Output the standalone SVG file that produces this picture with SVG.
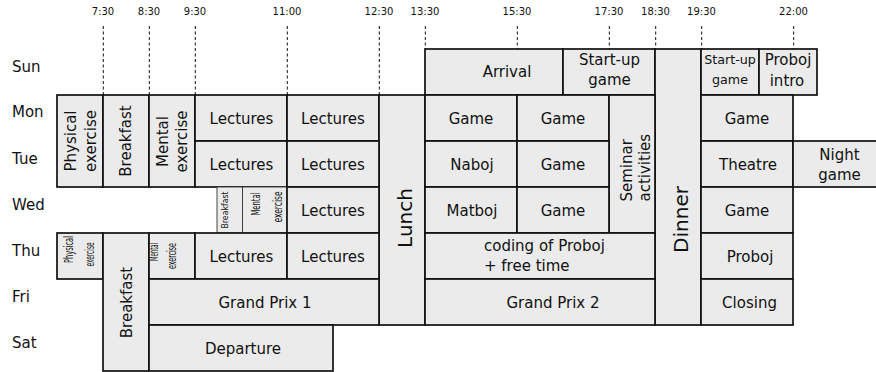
<svg xmlns="http://www.w3.org/2000/svg" width="876" height="372" viewBox="0 0 876 372">
  <style>
    .box { fill: #ebebeb; stroke: #111; stroke-width: 1.7; }
    .thin { stroke-width: 0.9; stroke: #333; }
    .grid { stroke: #111; stroke-width: 1; stroke-dasharray: 3 2.5; fill: none; }
    text { font-family: "DejaVu Sans", "Liberation Sans", sans-serif; font-size: 15px; fill: #111; text-anchor: middle; }
    .day { text-anchor: start; }
    .time { font-size: 10px; }
    .big { font-size: 20px; }
    .left { text-anchor: start; }
  </style>

  <!-- time axis -->
  <g id="time-axis">
    <text class="time" x="103" y="15">7:30</text>
    <text class="time" x="149" y="15">8:30</text>
    <text class="time" x="195" y="15">9:30</text>
    <text class="time" x="287" y="15">11:00</text>
    <text class="time" x="379" y="15">12:30</text>
    <text class="time" x="425" y="15">13:30</text>
    <text class="time" x="517" y="15">15:30</text>
    <text class="time" x="609" y="15">17:30</text>
    <text class="time" x="655.5" y="15">18:30</text>
    <text class="time" x="701.5" y="15">19:30</text>
    <text class="time" x="793.5" y="15">22:00</text>
  </g>

  <g id="connectors">
    <line class="grid" x1="103.3" y1="26" x2="103.3" y2="95"/>
    <line class="grid" x1="149.3" y1="26" x2="149.3" y2="95"/>
    <line class="grid" x1="195.3" y1="26" x2="195.3" y2="95"/>
    <line class="grid" x1="287.3" y1="26" x2="287.3" y2="95"/>
    <line class="grid" x1="379.3" y1="26" x2="379.3" y2="95"/>
    <line class="grid" x1="425.3" y1="26" x2="425.3" y2="49"/>
    <line class="grid" x1="517.3" y1="26" x2="517.3" y2="49"/>
    <line class="grid" x1="609.3" y1="26" x2="609.3" y2="49"/>
    <line class="grid" x1="655.7" y1="26" x2="655.7" y2="49"/>
    <line class="grid" x1="701.7" y1="26" x2="701.7" y2="49"/>
    <line class="grid" x1="793.7" y1="26" x2="793.7" y2="49"/>
  </g>

  <!-- day labels -->
  <g id="days">
    <text class="day" x="12" y="72">Sun</text>
    <text class="day" x="12" y="117">Mon</text>
    <text class="day" x="12" y="164">Tue</text>
    <text class="day" x="12" y="210">Wed</text>
    <text class="day" x="12" y="256">Thu</text>
    <text class="day" x="12" y="302">Fri</text>
    <text class="day" x="12" y="348">Sat</text>
  </g>

  <!-- Sunday -->
  <g id="sun-arrival"><rect class="box" x="425" y="49" width="138" height="46"/><text x="507" y="77">Arrival</text></g>
  <g id="sun-startup"><rect class="box" x="563" y="49" width="92" height="46"/><text x="609.5" y="65">Start-up</text><text x="609.5" y="85">game</text></g>
  <g id="dinner"><rect class="box" x="655" y="49" width="46" height="276"/><text class="big" transform="translate(687.5 219.5) rotate(-90)">Dinner</text></g>
  <g id="sun-startup-evening"><rect class="box" x="701" y="49" width="58" height="46"/><text x="730" y="64" style="font-size:12.7px">Start-up</text><text x="730" y="83.5" style="font-size:12.7px">game</text></g>
  <g id="sun-proboj-intro"><rect class="box" x="759" y="49" width="58" height="46"/><text x="788" y="65">Proboj</text><text x="787" y="86">intro</text></g>

  <!-- Monday / Tuesday morning -->
  <g id="physical-exercise"><rect class="box" x="57" y="95" width="46" height="92"/><text transform="translate(75.5 141) rotate(-90)">Physical</text><text transform="translate(96 141) rotate(-90)">exercise</text></g>
  <g id="breakfast"><rect class="box" x="103" y="95" width="46" height="92"/><text transform="translate(131 141) rotate(-90)">Breakfast</text></g>
  <g id="mental-exercise"><rect class="box" x="149" y="95" width="46" height="92"/><text transform="translate(167.5 141.5) rotate(-90)">Mental</text><text transform="translate(187 141.5) rotate(-90)">exercise</text></g>
  <g id="mon-lectures-1"><rect class="box" x="195" y="95" width="92" height="46"/><text x="241.5" y="123.5">Lectures</text></g>
  <g id="mon-lectures-2"><rect class="box" x="287" y="95" width="92" height="46"/><text x="333" y="123.5">Lectures</text></g>
  <g id="lunch"><rect class="box" x="379" y="95" width="46" height="230"/><text class="big" transform="translate(411.5 218) rotate(-90)">Lunch</text></g>
  <g id="mon-game-1"><rect class="box" x="425" y="95" width="92" height="46"/><text x="471" y="123.5">Game</text></g>
  <g id="mon-game-2"><rect class="box" x="517" y="95" width="92" height="46"/><text x="563" y="123.5">Game</text></g>
  <g id="seminar"><rect class="box" x="609" y="95" width="46" height="138"/><text class="left" transform="translate(631.5 201.5) rotate(-90)">Seminar</text><text class="left" transform="translate(650 201.5) rotate(-90)">activities</text></g>
  <g id="mon-game-3"><rect class="box" x="701" y="95" width="92" height="46"/><text x="747" y="123.5">Game</text></g>

  <!-- Tuesday -->
  <g id="tue-lectures-1"><rect class="box" x="195" y="141" width="92" height="46"/><text x="241.5" y="169.5">Lectures</text></g>
  <g id="tue-lectures-2"><rect class="box" x="287" y="141" width="92" height="46"/><text x="333" y="169.5">Lectures</text></g>
  <g id="tue-naboj"><rect class="box" x="425" y="141" width="92" height="46"/><text x="472" y="169.5">Naboj</text></g>
  <g id="tue-game"><rect class="box" x="517" y="141" width="92" height="46"/><text x="563" y="169.5">Game</text></g>
  <g id="tue-theatre"><rect class="box" x="701" y="141" width="92" height="46"/><text x="748" y="169.5">Theatre</text></g>
  <g id="tue-night-game"><rect class="box" x="793" y="141" width="94" height="46"/><text x="839.5" y="160">Night</text><text x="839.5" y="179.5">game</text></g>

  <!-- Wednesday (compressed morning) -->
  <g id="wed-breakfast"><rect class="box thin" x="217" y="187" width="25.5" height="46"/><text transform="translate(228 210) rotate(-90)" style="font-size:9.5px" textLength="37" lengthAdjust="spacingAndGlyphs">Breakfast</text></g>
  <g id="wed-mental-exercise"><rect class="box thin" x="242.5" y="187" width="44.5" height="46"/><text transform="translate(260 204) rotate(-90)" style="font-size:12px" textLength="23" lengthAdjust="spacingAndGlyphs">Mental</text><text transform="translate(281.5 207) rotate(-90)" style="font-size:12px" textLength="31" lengthAdjust="spacingAndGlyphs">exercise</text></g>
  <g id="wed-lectures"><rect class="box" x="287" y="187" width="92" height="46"/><text x="333" y="215.5">Lectures</text></g>
  <g id="wed-matboj"><rect class="box" x="425" y="187" width="92" height="46"/><text x="472" y="215.5">Matboj</text></g>
  <g id="wed-game"><rect class="box" x="517" y="187" width="92" height="46"/><text x="563" y="215.5">Game</text></g>
  <g id="wed-game-evening"><rect class="box" x="701" y="187" width="92" height="46"/><text x="747" y="215.5">Game</text></g>

  <!-- Thursday (compressed morning) -->
  <g id="thu-physical-exercise"><rect class="box" x="57" y="233" width="46" height="46"/><text transform="translate(73 249.5) rotate(-90)" style="font-size:12.5px" textLength="27" lengthAdjust="spacingAndGlyphs">Physical</text><text transform="translate(93.5 254.5) rotate(-90)" style="font-size:12.5px" textLength="24" lengthAdjust="spacingAndGlyphs">exercise</text></g>
  <g id="thu-breakfast"><rect class="box" x="103" y="233" width="46" height="138"/><text transform="translate(131.5 302.5) rotate(-90)">Breakfast</text></g>
  <g id="thu-mental-exercise"><rect class="box" x="149" y="233" width="46" height="46"/><text transform="translate(157.5 252) rotate(-90)" style="font-size:12px" textLength="18" lengthAdjust="spacingAndGlyphs">Mental</text><text transform="translate(175.5 256) rotate(-90)" style="font-size:12px" textLength="26" lengthAdjust="spacingAndGlyphs">exercise</text></g>
  <g id="thu-lectures-1"><rect class="box" x="195" y="233" width="92" height="46"/><text x="241.5" y="261.5">Lectures</text></g>
  <g id="thu-lectures-2"><rect class="box" x="287" y="233" width="92" height="46"/><text x="333" y="261.5">Lectures</text></g>
  <g id="thu-coding"><rect class="box" x="425" y="233" width="230" height="46"/><text class="left" x="484" y="251">coding of Proboj</text><text class="left" x="484" y="271">+ free time</text></g>
  <g id="thu-proboj"><rect class="box" x="701" y="233" width="92" height="46"/><text x="750" y="261.5">Proboj</text></g>

  <!-- Friday -->
  <g id="fri-grand-prix-1"><rect class="box" x="149" y="279" width="230" height="46"/><text x="265" y="307.5">Grand Prix 1</text></g>
  <g id="fri-grand-prix-2"><rect class="box" x="425" y="279" width="230" height="46"/><text x="553" y="307.5">Grand Prix 2</text></g>
  <g id="fri-closing"><rect class="box" x="701" y="279" width="92" height="46"/><text x="749.5" y="307.5">Closing</text></g>

  <!-- Saturday -->
  <g id="sat-departure"><rect class="box" x="149" y="325" width="184" height="46"/><text x="243" y="353.5">Departure</text></g>
</svg>
